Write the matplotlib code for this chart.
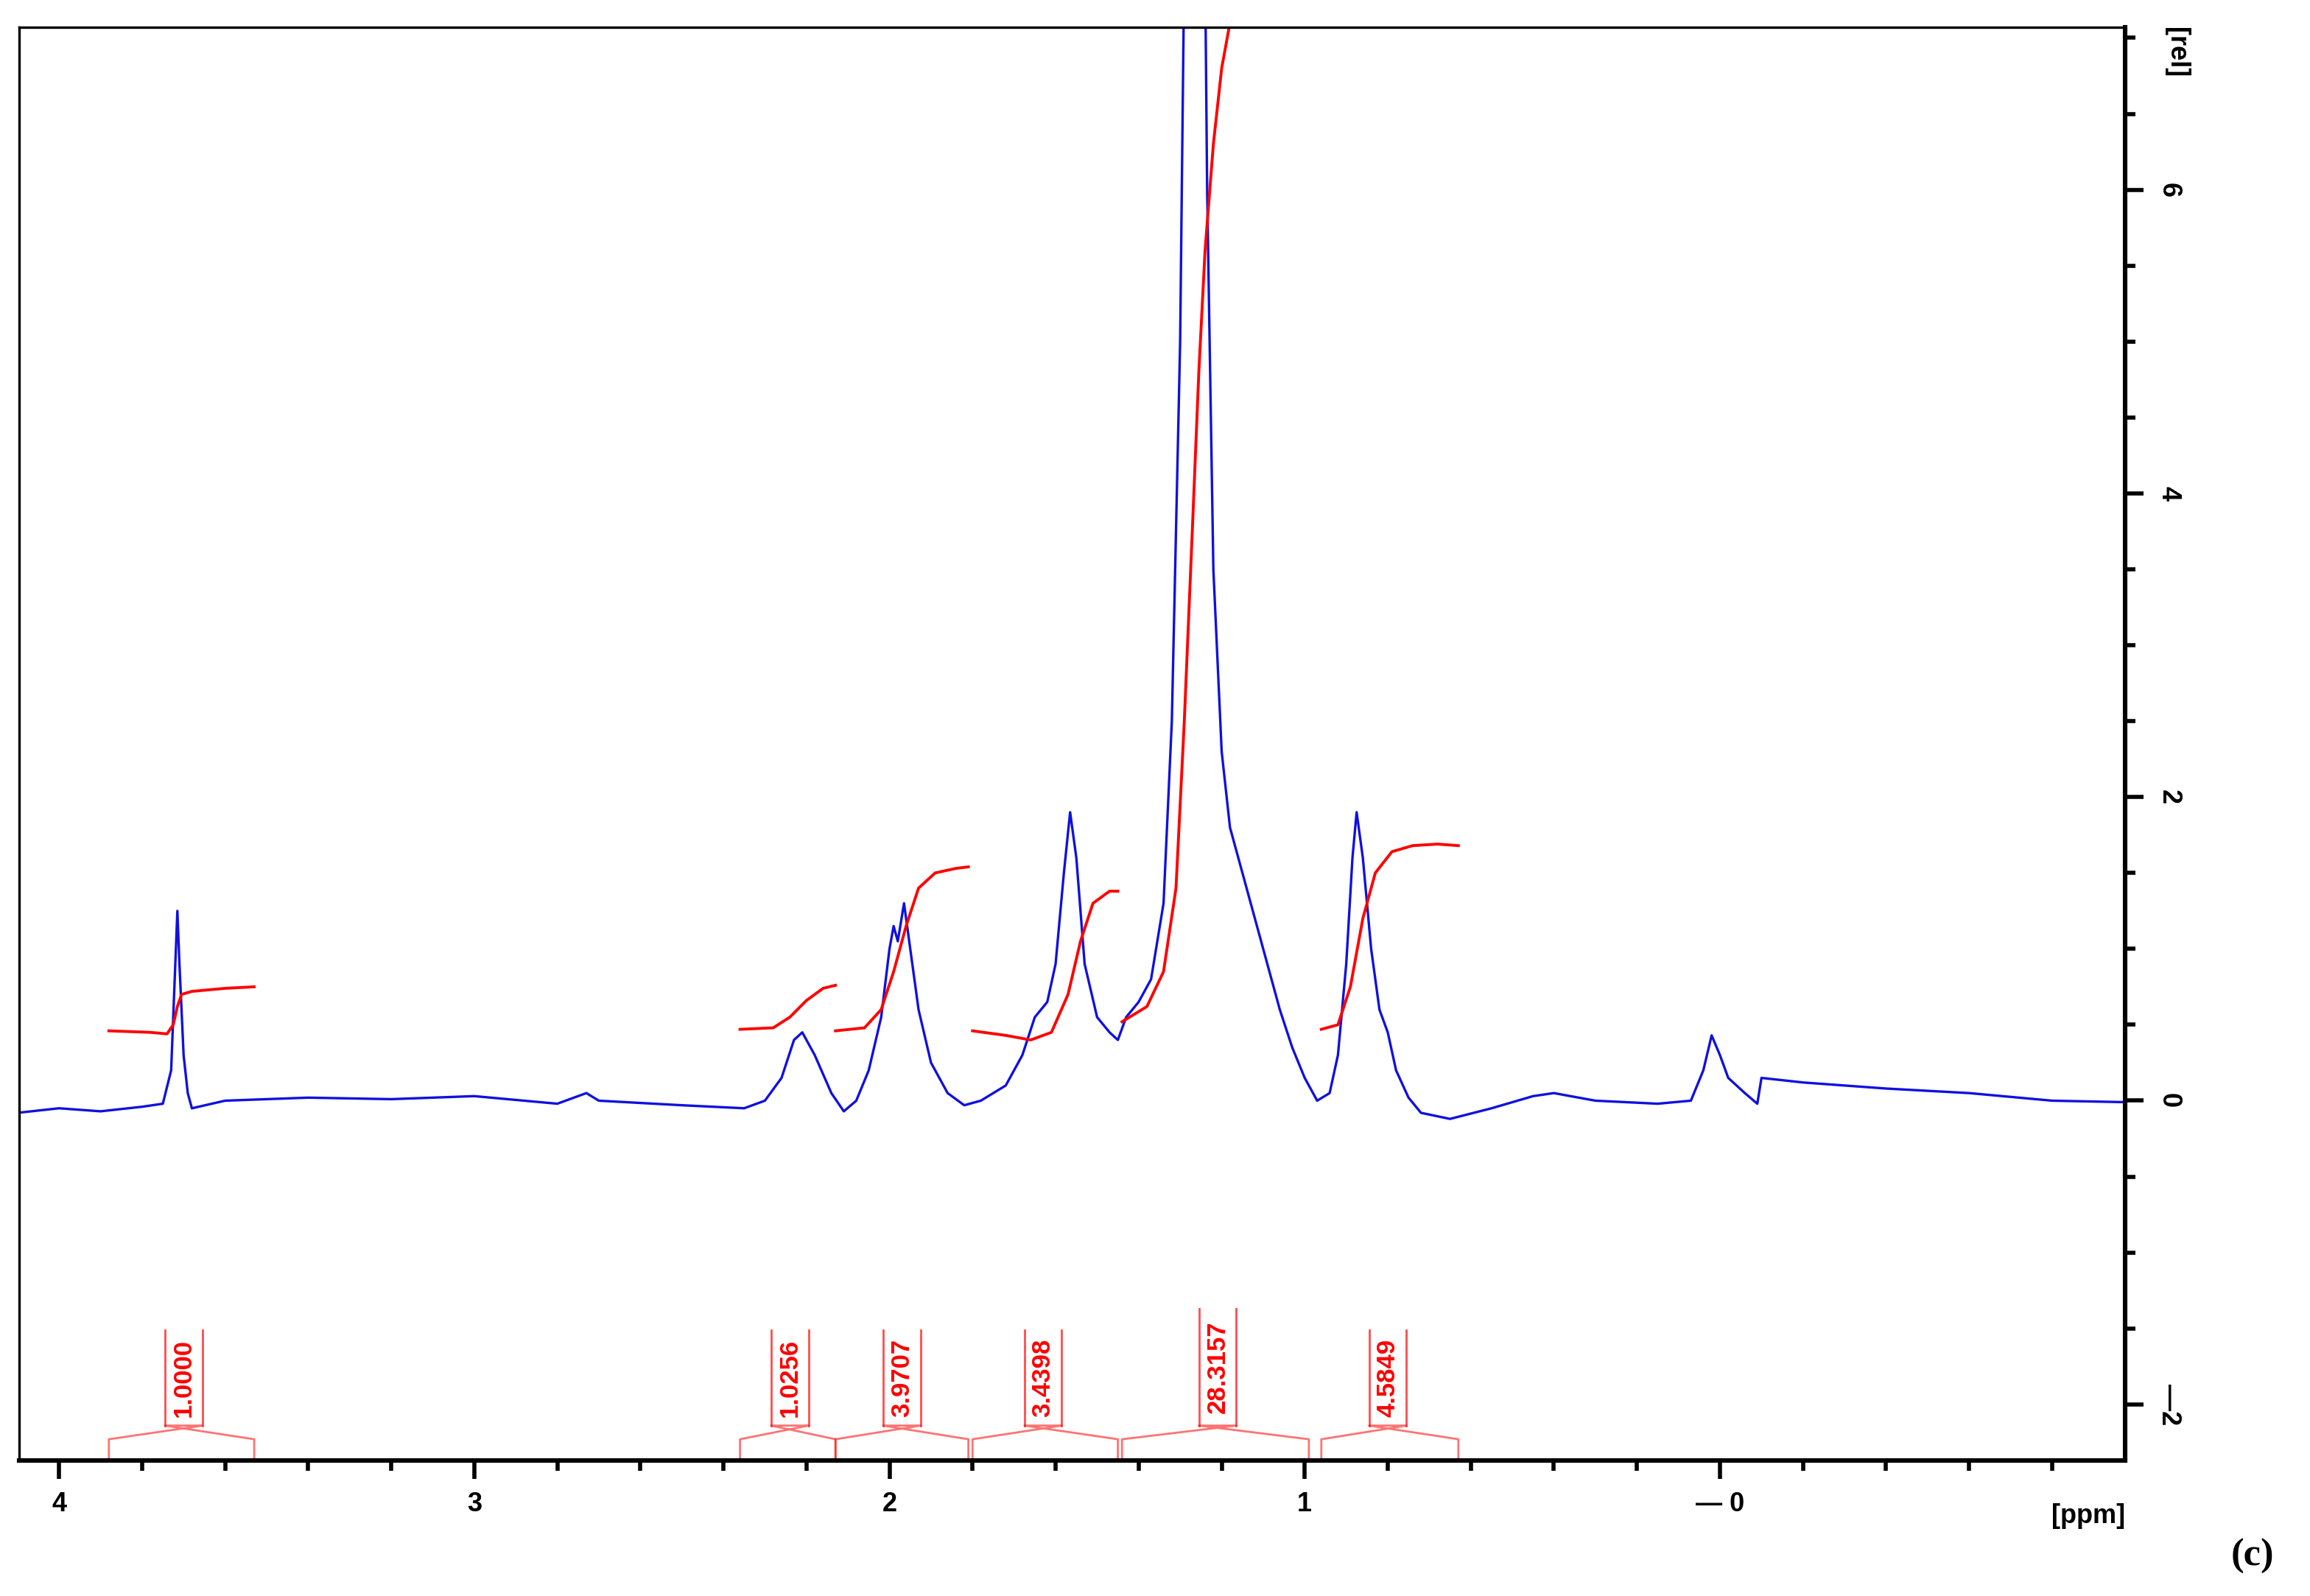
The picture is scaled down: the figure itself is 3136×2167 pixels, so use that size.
import matplotlib.pyplot as plt

# 1H NMR spectrum (ppm, intensity)
spec_ppm = [4.10, 4.00, 3.90, 3.80, 3.75, 3.73, 3.72, 3.715, 3.71, 3.70, 3.69, 3.68, 3.60, 3.40, 3.20,
            3.00, 2.80, 2.73, 2.70, 2.50, 2.35, 2.30, 2.26, 2.23, 2.21, 2.18, 2.14, 2.11, 2.08, 2.05,
            2.02, 2.00, 1.99, 1.98, 1.965, 1.95, 1.93, 1.90, 1.86, 1.82, 1.78, 1.72, 1.68, 1.65, 1.62,
            1.60, 1.58, 1.565, 1.55, 1.53, 1.50, 1.47, 1.45, 1.43, 1.40, 1.37, 1.34, 1.32, 1.30, 1.29,
            1.28, 1.26, 1.245, 1.235, 1.22, 1.20, 1.18, 1.15, 1.12, 1.09, 1.06, 1.03, 1.00, 0.97, 0.94,
            0.92, 0.90, 0.885, 0.875, 0.86, 0.84, 0.82, 0.80, 0.78, 0.75, 0.72, 0.65, 0.55, 0.45, 0.40,
            0.30, 0.15, 0.07, 0.04, 0.02, 0.00, -0.02, -0.06, -0.09, -0.10, -0.20, -0.40, -0.60, -0.80, -0.98]
spec_val = [-0.08, -0.05, -0.07, -0.04, -0.02, 0.2, 0.9, 1.25, 0.9, 0.3, 0.05, -0.05, 0.0, 0.02, 0.01,
            0.03, -0.02, 0.05, 0.0, -0.03, -0.05, 0.0, 0.15, 0.4, 0.45, 0.3, 0.05, -0.07, 0.0, 0.2,
            0.55, 1.0, 1.15, 1.05, 1.3, 1.0, 0.6, 0.25, 0.05, -0.03, 0.0, 0.1, 0.3, 0.55, 0.65,
            0.9, 1.5, 1.9, 1.6, 0.9, 0.55, 0.45, 0.4, 0.55, 0.65, 0.8, 1.3, 2.5, 5.0, 7.5,
            9.0, 7.5, 9.0, 6.0, 3.5, 2.3, 1.8, 1.5, 1.2, 0.9, 0.6, 0.35, 0.15, 0.0, 0.05,
            0.3, 0.9, 1.6, 1.9, 1.6, 1.0, 0.6, 0.45, 0.2, 0.02, -0.08, -0.12, -0.05, 0.03, 0.05,
            0.0, -0.02, 0.0, 0.2, 0.43, 0.3, 0.15, 0.05, -0.02, 0.15, 0.12, 0.08, 0.05, 0.0, -0.01]

# integral traces
int_ppm = [
    [3.88, 3.78, 3.74, 3.725, 3.715, 3.705, 3.68, 3.60, 3.53],
    [2.36, 2.28, 2.24, 2.20, 2.16, 2.13],
    [2.13, 2.06, 2.02, 1.99, 1.96, 1.93, 1.89, 1.84, 1.81],
    [1.80, 1.72, 1.66, 1.61, 1.57, 1.54, 1.51, 1.47, 1.45],
    [1.44, 1.38, 1.34, 1.31, 1.29, 1.27, 1.255, 1.24, 1.22, 1.20, 1.18],
    [0.96, 0.92, 0.89, 0.86, 0.83, 0.79, 0.74, 0.68, 0.63],
]
int_val = [
    [0.46, 0.45, 0.44, 0.50, 0.62, 0.70, 0.72, 0.74, 0.75],
    [0.47, 0.48, 0.55, 0.66, 0.74, 0.76],
    [0.46, 0.48, 0.60, 0.85, 1.15, 1.40, 1.50, 1.53, 1.54],
    [0.46, 0.43, 0.40, 0.45, 0.70, 1.05, 1.30, 1.38, 1.38],
    [0.52, 0.62, 0.85, 1.40, 2.50, 3.80, 4.80, 5.60, 6.30, 6.80, 7.10],
    [0.47, 0.50, 0.75, 1.20, 1.50, 1.64, 1.68, 1.69, 1.68],
]
# integral regions and values
reg_left = [3.88, 2.36, 2.13, 1.80, 1.44, 0.96]
reg_right = [3.53, 2.13, 1.81, 1.45, 0.99, 0.63]
reg_center = [3.70, 2.24, 1.97, 1.63, 1.21, 0.80]
reg_labels = ["1.0000", "1.0256", "3.9707", "3.4398", "28.3157", "4.5849"]

ymin, ymax = -2.37, 7.07

fig = plt.figure(figsize=(15.68, 10.835), dpi=200)
ax = fig.add_axes([0.0083, 0.0849, 0.9117, 0.898])

ax.plot(spec_ppm, spec_val, color="#1010e0", lw=1.2)
for xs, ys in zip(int_ppm, int_val):
    ax.plot(xs, ys, color="red", lw=1.4)

for l, r, c, lab in zip(reg_left, reg_right, reg_center, reg_labels):
    hw = 0.045
    top = -1.37 if lab == "28.3157" else -1.51
    ax.plot([l, l, c - hw, c + hw, r, r], [ymin, -2.23, -2.14, -2.14, -2.23, ymin],
            color="red", lw=1.0, alpha=0.55, clip_on=False)
    ax.plot([c - hw, c - hw], [-2.14, top], color="red", lw=1.0, alpha=0.7)
    ax.plot([c + hw, c + hw], [-2.14, top], color="red", lw=1.0, alpha=0.7)
    ax.text(c, (top - 2.14) / 2, lab, rotation=90, color="red", fontsize=12.5,
            fontweight="bold", ha="center", va="center", family="Liberation Sans")

ax.set_xlim(4.096, -0.976)
ax.set_ylim(ymin, ymax)

ax.set_xticks([4, 3, 2, 1, 0])
ax.set_xticklabels(["4", "3", "2", "1", "\u2014 0"])
ax.set_xticks([x / 10 for x in range(-8, 40, 2)], minor=True)
ax.yaxis.tick_right()
ax.set_yticks([-2, 0, 2, 4, 6])
ax.set_yticklabels(["\u20142", "0", "2", "4", "6"], rotation=270, va="center")
ax.set_yticks([v / 2 for v in range(-4, 15)], minor=True)
for lbl in ax.get_xticklabels() + ax.get_yticklabels():
    lbl.set_fontweight("bold")
    lbl.set_family("Liberation Sans")
    lbl.set_fontsize(13)
ax.tick_params(axis="x", which="major", length=9, width=2, pad=6)
ax.tick_params(axis="x", which="minor", length=5, width=2)
ax.tick_params(axis="y", which="major", length=9, width=2, pad=6)
ax.tick_params(axis="y", which="minor", length=5, width=2)

for side in ["left", "top"]:
    ax.spines[side].set_linewidth(1.2)
for side in ["bottom", "right"]:
    ax.spines[side].set_linewidth(2.2)

ax.text(1.0, -0.03, "[ppm]", transform=ax.transAxes, ha="right", va="top",
        fontsize=13, fontweight="bold", family="Liberation Sans")
ax.text(1.018, 1.0, "[rel]", transform=ax.transAxes, ha="left", va="top", rotation=270,
        fontsize=13, fontweight="bold", family="Liberation Sans")
fig.text(0.975, 0.025, "(c)", ha="center", va="center", fontsize=19, fontweight="bold",
         family="Liberation Serif")

fig.savefig("out.png", dpi=200)
